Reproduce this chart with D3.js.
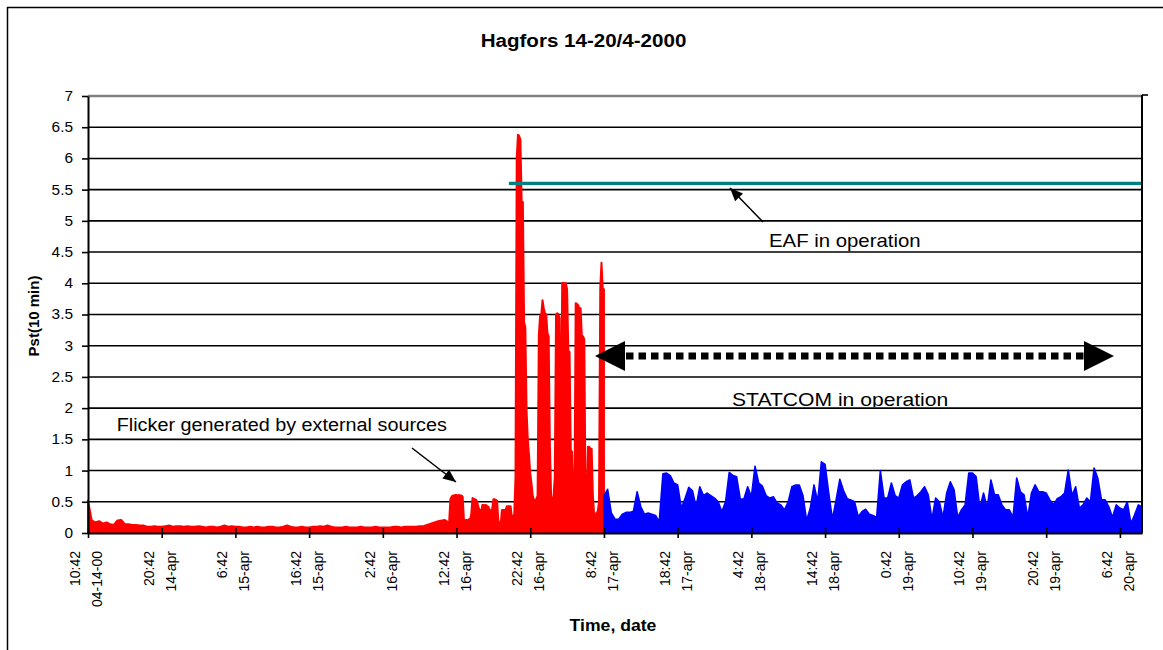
<!DOCTYPE html>
<html>
<head>
<meta charset="utf-8">
<script src="https://cdn.jsdelivr.net/npm/d3@7"></script>
<style>
  html, body { margin: 0; padding: 0; background: #fff; }
  svg { display: block; font-family: "Liberation Sans", Arial, Helvetica, sans-serif; }
</style>
</head>
<body>
<svg id="chart" width="1163" height="650"></svg>
<script>
// Flicker severity Pst(10 min) at Hagfors, 14-20 April 2000.
// Time is counted in hours from 04-14-00 10:42.

const tickHours = [0, 10, 20, 30, 40, 50, 60, 70, 80, 90, 100, 110, 120, 130, 140];
const tickTimes = ["10:42", "20:42", "6:42", "16:42", "2:42", "12:42", "22:42", "8:42",
                   "18:42", "4:42", "14:42", "0:42", "10:42", "20:42", "6:42"];
const tickDates = ["04-14-00", "14-apr", "15-apr", "15-apr", "16-apr", "16-apr", "16-apr", "17-apr",
                   "17-apr", "18-apr", "18-apr", "19-apr", "19-apr", "19-apr", "20-apr"];
const yTicks = [0, 0.5, 1, 1.5, 2, 2.5, 3, 3.5, 4, 4.5, 5, 5.5, 6, 6.5, 7];

// Half-hourly Pst, 0 h - 47.5 h (flicker from external sources only)
const pstExternal = [
  0.52, 0.2, 0.17, 0.19, 0.15, 0.17, 0.14, 0.13, 0.2, 0.21,
  0.14, 0.14, 0.13, 0.13, 0.12, 0.12, 0.1, 0.1, 0.11, 0.1,
  0.1, 0.11, 0.12, 0.1, 0.11, 0.11, 0.1, 0.11, 0.1, 0.1,
  0.11, 0.1, 0.09, 0.1, 0.1, 0.09, 0.1, 0.12, 0.1, 0.11,
  0.1, 0.1, 0.09, 0.09, 0.1, 0.09, 0.1, 0.09, 0.09, 0.1,
  0.1, 0.09, 0.09, 0.1, 0.12, 0.1, 0.09, 0.09, 0.1, 0.09,
  0.09, 0.1, 0.1, 0.11, 0.1, 0.12, 0.1, 0.09, 0.09, 0.09,
  0.1, 0.09, 0.09, 0.09, 0.1, 0.09, 0.09, 0.09, 0.1, 0.09,
  0.09, 0.09, 0.09, 0.1, 0.1, 0.09, 0.1, 0.1, 0.1, 0.1,
  0.11, 0.11, 0.13, 0.15, 0.17, 0.19
];

// 10-minute Pst, 48 h - 70 h (arc furnace start, no compensation)
const pstEaf = [
  0.2, 0.2, 0.21, 0.2, 0.19, 0.17, 0.18, 0.54, 0.58, 0.6,
  0.6, 0.61, 0.61, 0.6, 0.61, 0.6, 0.6, 0.58, 0.21, 0.2,
  0.21, 0.2, 0.22, 0.21, 0.3, 0.56, 0.55, 0.54, 0.53, 0.48,
  0.4, 0.37, 0.3, 0.45, 0.45, 0.44, 0.45, 0.43, 0.42, 0.37,
  0.36, 0.38, 0.54, 0.54, 0.53, 0.52, 0.2, 0.15,
  0.15, 0.37, 0.37, 0.37, 0.37, 0.43, 0.43, 0.43, 0.43, 0.26,
  0.26, 0.3, 0.9, 6.0, 6.38, 6.36, 6.3, 5.31, 5.3, 3.37,
  3.3, 1.97, 1.5, 1.25, 0.95, 0.8, 0.6, 0.53, 0.5, 0.55,
  0.6, 3.17, 3.47, 3.5, 3.73, 3.6, 3.52, 3.5, 3.2, 3.15,
  1.4, 0.58, 0.5, 0.6, 0.9, 3.5, 3.52, 3.5, 3.45, 0.6,
  4.0, 4.01, 4.0, 4.0, 3.9, 2.92, 2.9, 1.33, 1.3, 0.6,
  0.55, 3.68, 3.67, 3.65, 3.6, 3.6, 3.15, 3.15, 3.1, 0.58,
  0.5, 1.38, 1.38, 1.35, 1.35, 0.6, 0.3, 0.3, 0.32, 0.35,
  0.5, 3.92, 4.33, 3.92, 3.9
];

// Half-hourly Pst, 70 h - 143 h (STATCOM in operation)
const pstStatcom = [
  0.6, 0.7, 0.32, 0.22, 0.22, 0.3, 0.33, 0.33, 0.35, 0.66,
  0.42, 0.3, 0.32, 0.3, 0.28, 0.18, 0.95, 0.96, 0.92, 0.8,
  0.77, 0.4, 0.55, 0.73, 0.68, 0.42, 0.74, 0.6, 0.64, 0.6,
  0.56, 0.5, 0.34, 0.5, 0.97, 0.92, 0.9, 0.54, 0.55, 0.74,
  0.58, 1.07, 0.8, 0.75, 0.6, 0.56, 0.58, 0.48, 0.45, 0.37,
  0.5, 0.74, 0.77, 0.77, 0.6, 0.2, 0.4, 0.77, 0.5, 1.14,
  1.1, 0.64, 0.22, 0.53, 0.86, 0.68, 0.55, 0.53, 0.5, 0.26,
  0.34, 0.38, 0.3, 0.28, 0.25, 1.0, 0.56, 0.56, 0.8, 0.6,
  0.56, 0.77, 0.82, 0.85, 0.56, 0.6, 0.66, 0.74, 0.61, 0.22,
  0.56, 0.5, 0.25, 0.64, 0.82, 0.69, 0.25, 0.37, 0.45, 0.96,
  0.96, 0.9, 0.4, 0.64, 0.4, 0.85, 0.61, 0.61, 0.45, 0.37,
  0.37, 0.25, 0.88, 0.66, 0.61, 0.25, 0.64, 0.77, 0.66, 0.66,
  0.64, 0.53, 0.45, 0.55, 0.58, 0.64, 1.01, 0.6, 0.74, 0.4,
  0.45, 0.56, 0.5, 1.04, 0.88, 0.53, 0.53, 0.42, 0.25, 0.45,
  0.4, 0.37, 0.5, 0.15, 0.29, 0.45, 0.42
];

// EAF operating marker
const eafHours = [57.1, 143];
const eafLevel = [5.6, 5.6];

// ---------------------------------------------------------------
const svg = d3.select("#chart");
const W = 1163, H = 650;
const plot = { left: 88, right: 1142, top: 96, bottom: 533 };

const x = d3.scaleLinear().domain([0, 143]).range([plot.left, plot.right]);
const y = d3.scaleLinear().domain([0, 7]).range([plot.bottom, plot.top]);

// text in this drawing is slightly wider than the regular face
const WIDEN = 1.1;
function widen(sel) {
  sel.each(function () {
    const w = this.getComputedTextLength();
    d3.select(this).attr("textLength", w * WIDEN).attr("lengthAdjust", "spacingAndGlyphs");
  });
}

// background + outer frame
svg.append("rect").attr("width", W).attr("height", H).attr("fill", "#fff");
svg.append("rect")
  .attr("x", 7.5).attr("y", 7.5).attr("width", W + 20).attr("height", H + 20)
  .attr("fill", "none").attr("stroke", "#000").attr("stroke-width", 1.5);

// title
svg.append("text")
  .attr("x", 583.5).attr("y", 47.3)
  .attr("text-anchor", "middle")
  .attr("font-size", 18.7).attr("font-weight", "bold")
  .text("Hagfors 14-20/4-2000")
  .call(widen);

// horizontal grid
svg.append("g")
  .selectAll("line")
  .data(yTicks.filter(v => v > 0 && v < 7))
  .join("line")
  .attr("x1", plot.left).attr("x2", plot.right)
  .attr("y1", d => y(d)).attr("y2", d => y(d))
  .attr("stroke", "#000").attr("stroke-width", 1.6);

// top border of plot area
svg.append("line")
  .attr("x1", plot.left).attr("x2", plot.right)
  .attr("y1", y(7)).attr("y2", y(7))
  .attr("stroke", "#808080").attr("stroke-width", 2.5);

// Pst series
const redSeries = pstExternal.map((v, k) => ({ h: k * 0.5, v }))
  .concat(pstEaf.map((v, i) => ({ h: 48 + i / 6, v })));
const blueSeries = pstStatcom.map((v, j) => ({ h: 70 + j * 0.5, v }));

const area = d3.area()
  .x(d => x(d.h))
  .y0(y(0))
  .y1(d => y(d.v));

svg.append("path").datum(redSeries).attr("d", area)
  .attr("fill", "#ff0000").attr("stroke", "#ff0000")
  .attr("stroke-width", 2).attr("stroke-linejoin", "round");
svg.append("path").datum(blueSeries).attr("d", area)
  .attr("fill", "#0000ff").attr("stroke", "#0000ff")
  .attr("stroke-width", 1.6).attr("stroke-linejoin", "round");

// EAF marker line
svg.append("path")
  .datum(eafHours.map((h, i) => ({ h, v: eafLevel[i] })))
  .attr("d", d3.line().x(d => x(d.h)).y(d => y(d.v)))
  .attr("fill", "none").attr("stroke", "#008080").attr("stroke-width", 3.2);

// y axis
const yAxis = svg.append("g")
  .attr("transform", `translate(${plot.left},0)`)
  .call(d3.axisLeft(y).tickValues(yTicks).tickSize(6).tickSizeOuter(0).tickPadding(9)
    .tickFormat(d => String(d)));
yAxis.select(".domain").attr("stroke", "#000").attr("stroke-width", 2);
yAxis.selectAll(".tick line").attr("stroke", "#000").attr("stroke-width", 1.6);
yAxis.selectAll(".tick text")
  .attr("font-family", "Liberation Sans, Arial, sans-serif")
  .attr("font-size", 14).attr("fill", "#000")
  .call(widen);

// right-hand axis line
svg.append("line")
  .attr("x1", plot.right).attr("x2", plot.right)
  .attr("y1", plot.top - 1).attr("y2", plot.bottom)
  .attr("stroke", "#000").attr("stroke-width", 2);
svg.append("line")
  .attr("x1", plot.right).attr("x2", plot.right + 6)
  .attr("y1", plot.top - 1).attr("y2", plot.top - 1)
  .attr("stroke", "#000").attr("stroke-width", 1.6);

// x axis
const xAxis = svg.append("g")
  .attr("transform", `translate(0,${plot.bottom})`)
  .call(d3.axisBottom(x).tickValues(tickHours).tickSize(5).tickSizeOuter(0).tickFormat(""));
xAxis.select(".domain").attr("stroke", "#000").attr("stroke-width", 2);
xAxis.selectAll(".tick line").attr("y1", -5).attr("y2", 5)
  .attr("stroke", "#000").attr("stroke-width", 1.6);

const tickLab = svg.append("g")
  .selectAll("g")
  .data(tickHours)
  .join("g")
  .attr("font-size", 14);
tickLab.append("text")
  .attr("transform", d => `translate(${x(d) - 8},551) rotate(-90)`)
  .attr("text-anchor", "end")
  .text((d, i) => tickTimes[i]);
tickLab.append("text")
  .attr("transform", d => `translate(${x(d) + 14},551) rotate(-90)`)
  .attr("text-anchor", "end")
  .text((d, i) => tickDates[i]);

// axis titles
svg.append("text")
  .attr("x", 613).attr("y", 631)
  .attr("text-anchor", "middle")
  .attr("font-size", 16).attr("font-weight", "bold")
  .text("Time, date")
  .call(widen);
svg.append("text")
  .attr("transform", "translate(39,316) rotate(-90)")
  .attr("text-anchor", "middle")
  .attr("font-size", 15).attr("font-weight", "bold")
  .text("Pst(10 min)");

// ---------- annotations ----------
function arrowHead(g, tip, from, len, half) {
  const dx = tip[0] - from[0], dy = tip[1] - from[1];
  const L = Math.hypot(dx, dy), ux = dx / L, uy = dy / L;
  const bx = tip[0] - ux * len, by = tip[1] - uy * len;
  g.append("path")
    .attr("d", `M${tip[0]},${tip[1]}L${bx - uy * half},${by + ux * half}L${bx + uy * half},${by - ux * half}Z`)
    .attr("fill", "#000");
}
function pointer(tail, tip) {
  const g = svg.append("g");
  g.append("line")
    .attr("x1", tail[0]).attr("y1", tail[1]).attr("x2", tip[0]).attr("y2", tip[1])
    .attr("stroke", "#000").attr("stroke-width", 1.5);
  arrowHead(g, tip, tail, 13, 5.5);
}

// external flicker note
svg.append("text")
  .attr("x", 116.7).attr("y", 430.7)
  .attr("font-size", 18)
  .text("Flicker generated by external sources")
  .call(widen);
pointer([412, 448], [456, 482]);

// EAF note
svg.append("text")
  .attr("x", 769).attr("y", 246.7)
  .attr("font-size", 18.5)
  .text("EAF in operation")
  .call(widen);
pointer([763, 222], [730, 188]);

// STATCOM double arrow
const arrowY = 356;
const st = svg.append("g");
st.append("line")
  .attr("x1", 626).attr("x2", 1084).attr("y1", arrowY).attr("y2", arrowY)
  .attr("stroke", "#000").attr("stroke-width", 7).attr("stroke-dasharray", "7.5,5");
arrowHead(st, [595, arrowY], [700, arrowY], 30, 15);
arrowHead(st, [1114, arrowY], [1000, arrowY], 30, 15);

svg.append("clipPath").attr("id", "noteClip")
  .append("rect").attr("x", 600).attr("y", 370).attr("width", 500).attr("height", 37);
svg.append("text")
  .attr("clip-path", "url(#noteClip)")
  .attr("x", 732).attr("y", 406)
  .attr("font-size", 19.2)
  .text("STATCOM in operation")
  .call(widen);
</script>
</body>
</html>
